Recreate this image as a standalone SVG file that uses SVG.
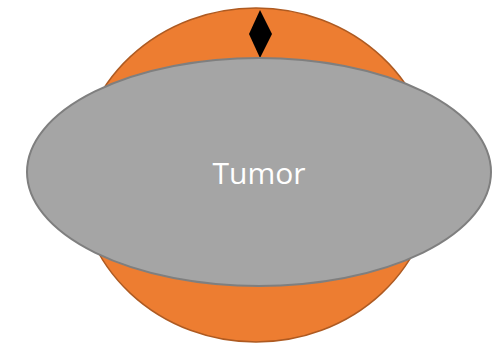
<svg xmlns="http://www.w3.org/2000/svg" width="492" height="344" viewBox="0 0 492 344">
<style>
.organ{fill:#ed7d31;stroke:#ae5a21;stroke-width:1.5}
.tumor{fill:#a5a5a5;stroke:#7f7f7f;stroke-width:2}
.mark{fill:#000}
.lbl{font-family:"Open Sans","Liberation Sans",sans-serif;font-size:30px;fill:#fff;text-anchor:middle}
</style>
<rect width="492" height="344" fill="#fff"/>
<g id="organ">
<ellipse class="organ" cx="256" cy="175" rx="178" ry="167"/>
</g>
<g id="marker">
<polygon class="mark" points="260,10 272,34 260,58 249,34"/>
</g>
<g id="tumor">
<ellipse class="tumor" cx="259" cy="172" rx="232" ry="114"/>
<text class="lbl" x="259" y="184">Tumor</text>
</g>
<g id="connectors"/>
</svg>
